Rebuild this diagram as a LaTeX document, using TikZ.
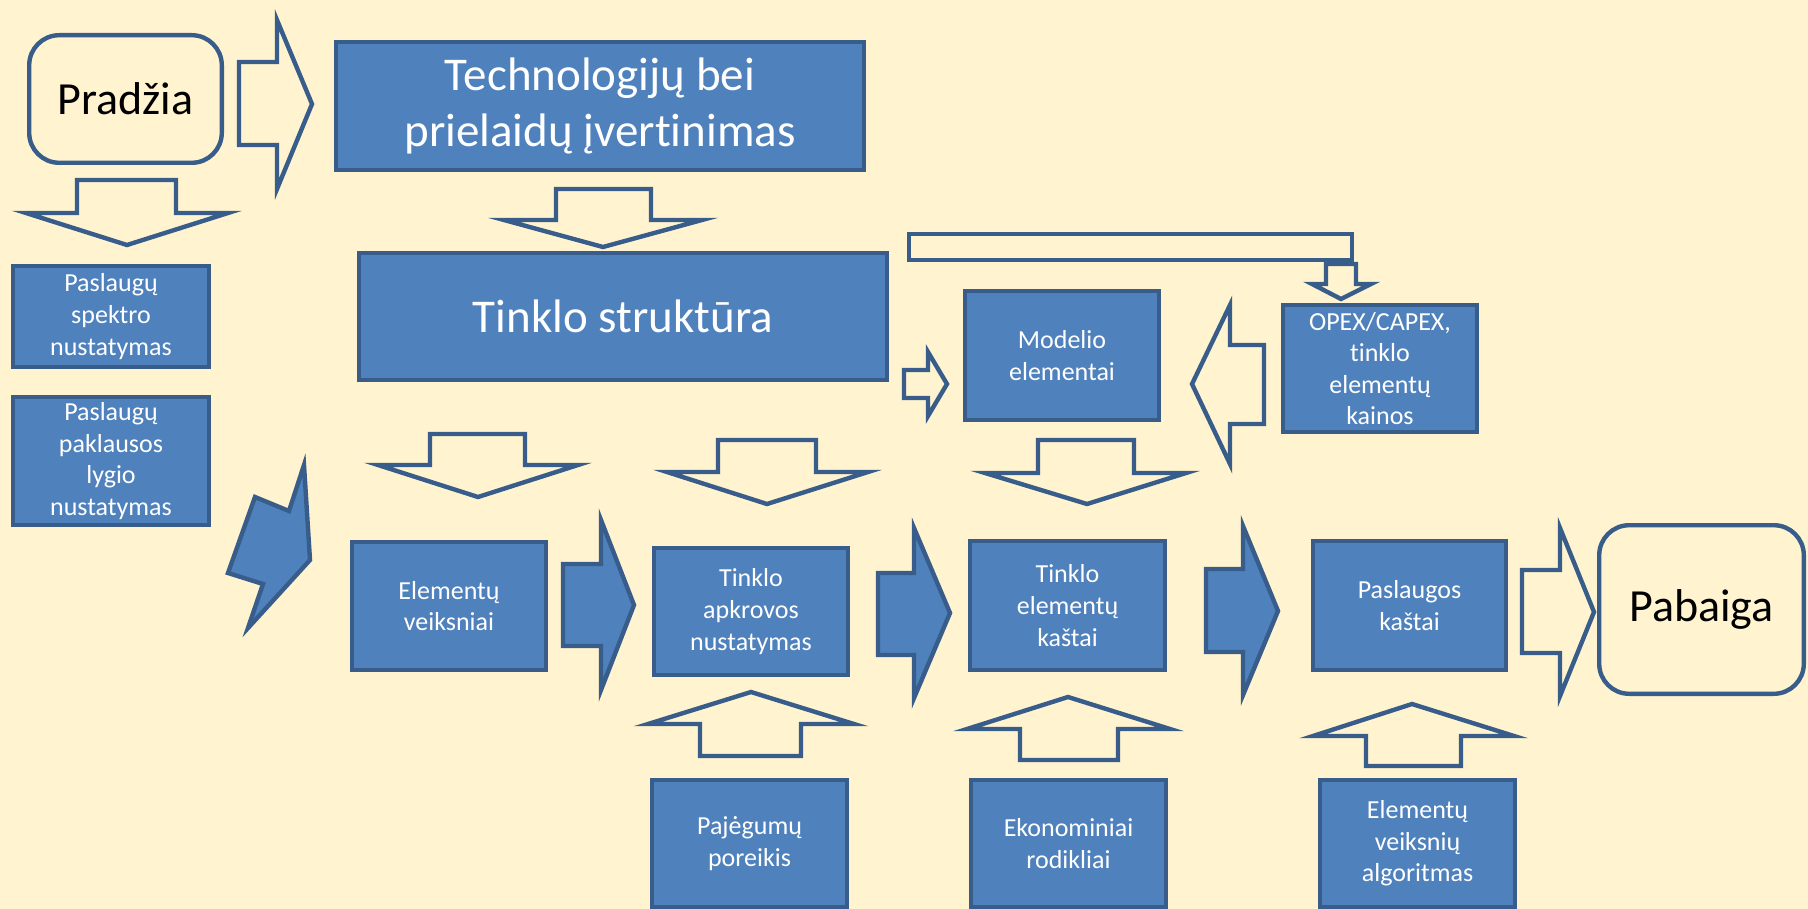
\documentclass[tikz,border=0pt]{standalone}
\usepackage{fontspec}
\setmainfont{Carlito}[Ligatures=NoCommon]
\usepackage{tikz}
\usetikzlibrary{positioning}

\definecolor{bg}{HTML}{FFF3D0}
\definecolor{boxblue}{HTML}{4F81BD}
\definecolor{boxline}{HTML}{385D8A}

\tikzset{
  box/.style={draw=boxline, fill=boxblue, line width=2.2pt, text=white, align=center,
    inner sep=0pt, font=\fontsize{13}{15.8}\selectfont},
  bigbox/.style={box, font=\fontsize{23.5}{28}\selectfont},
  endbox/.style={draw=boxline, fill=bg, line width=2.2pt, rounded corners=15pt,
    inner sep=0pt, font=\fontsize{23}{28}\selectfont},
  hollow/.style={draw=boxline, fill=bg, line width=2.2pt},
  solid/.style={draw=boxline, fill=boxblue, line width=2.2pt}
}

\begin{document}
\begin{tikzpicture}[x=0.5pt, y=-0.5pt]
  \fill[bg] (0,0) rectangle (1808,909);
  \useasboundingbox (0,0) rectangle (1808,909);

  % hollow arrows
  \draw[hollow] (239,62) -- (277,62) -- (277,20) -- (312,104) -- (277,189) -- (277,145) -- (239,145) -- cycle; % start -> tech
  \draw[hollow] (77,180) -- (176,180) -- (176,213) -- (228,213) -- (127,245) -- (26,213) -- (77,213) -- cycle; % start down
  \draw[hollow] (556,189) -- (651,189) -- (651,220) -- (702,220) -- (603,247) -- (504,220) -- (556,220) -- cycle; % tech down
  \draw[hollow] (909,234) rectangle (1352,260); % bar
  \draw[hollow] (1326,264) -- (1356,264) -- (1356,284) -- (1371,284) -- (1341,299) -- (1312,284) -- (1326,284) -- cycle; % bar down
  \draw[hollow] (904,370) -- (928,370) -- (928,352) -- (947,384) -- (928,416) -- (928,398) -- (904,398) -- cycle; % struct -> model
  \draw[hollow] (1192,384) -- (1230,305) -- (1230,345) -- (1264,345) -- (1264,424) -- (1230,424) -- (1230,464) -- cycle; % opex -> model
  \draw[hollow] (430,434) -- (525,434) -- (525,465) -- (578,465) -- (478,497) -- (378,465) -- (430,465) -- cycle;
  \draw[hollow] (718,440) -- (816,440) -- (816,472) -- (868,472) -- (767,504) -- (667,472) -- (718,472) -- cycle;
  \draw[hollow] (1038,440) -- (1134,440) -- (1134,473) -- (1186,473) -- (1087,504) -- (985,473) -- (1038,473) -- cycle;
  \draw[hollow] (1522,570) -- (1560,570) -- (1560,528) -- (1594,612) -- (1560,696) -- (1560,653) -- (1522,653) -- cycle; % -> end
  \draw[hollow] (751,692) -- (854,724) -- (801,724) -- (801,756) -- (700,756) -- (700,724) -- (648,724) -- cycle; % up
  \draw[hollow] (1068,697) -- (1170,729) -- (1118,729) -- (1118,760) -- (1020,760) -- (1020,729) -- (967,729) -- cycle;
  \draw[hollow] (1412,704) -- (1514,736) -- (1461,736) -- (1461,766) -- (1366,766) -- (1366,736) -- (1313,736) -- cycle;

  % solid arrows
  \draw[solid] (304,465) -- (310,560) -- (248,628) -- (263,584) -- (228,573) -- (255,497) -- (289,511) -- cycle; % zigzag
  \draw[solid] (563,564) -- (601,564) -- (601,520) -- (634,605) -- (601,690) -- (601,646) -- (563,646) -- cycle;
  \draw[solid] (878,573) -- (914,573) -- (914,528) -- (950,613) -- (914,698) -- (914,655) -- (878,655) -- cycle;
  \draw[solid] (1206,569) -- (1243,569) -- (1243,526) -- (1278,611) -- (1243,695) -- (1243,652) -- (1206,652) -- cycle;

  % boxes
  \node[endbox, minimum width=96.3pt, minimum height=63.8pt] (pradzia) at (125.5,99) {Pradžia};
  \node[bigbox, minimum width=263.8pt, minimum height=63.8pt] (tech) at (600,106) {Technologijų bei\\prielaidų įvertinimas};
  \node[box, minimum width=97.8pt, minimum height=50.3pt] (spektras) at (111,316.5) {Paslaugų\\spektro\\nustatymas};
  \node[box, minimum width=97.8pt, minimum height=63.8pt] (paklausa) at (111,461) {Paslaugų\\paklausos\\lygio\\nustatymas};
  \node[bigbox, minimum width=263.8pt, minimum height=63.3pt] (struktura) at (623,316.5) {Tinklo struktūra};
  \node[box, minimum width=96.8pt, minimum height=64.3pt] (modelis) at (1062,355.5) {Modelio\\elementai};
  \node[box, minimum width=96.8pt, minimum height=63.3pt] (opex) at (1380,368.5) {OPEX/CAPEX,\\tinklo\\elementų\\kainos};
  \node[box, minimum width=96.8pt, minimum height=63.8pt] (veiksniai) at (449,606) {Elementų\\veiksniai};
  \node[box, minimum width=96.8pt, minimum height=63.3pt] (apkrova) at (751,611.5) {Tinklo\\apkrovos\\nustatymas};
  \node[box, minimum width=97.3pt, minimum height=64.3pt] (kastai) at (1067.5,605.5) {Tinklo\\elementų\\kaštai};
  \node[box, minimum width=96.3pt, minimum height=64.3pt] (paslauga) at (1409.5,605.5) {Paslaugos\\kaštai};
  \node[endbox, minimum width=102.3pt, minimum height=84.3pt] (pabaiga) at (1701.5,609.5) {Pabaiga};
  \node[box, minimum width=97.3pt, minimum height=63.3pt] (pajegumai) at (749.5,843.5) {Pajėgumų\\poreikis};
  \node[box, minimum width=97.3pt, minimum height=63.3pt] (rodikliai) at (1068.5,843.5) {Ekonominiai\\rodikliai};
  \node[box, minimum width=97.3pt, minimum height=63.3pt] (algoritmas) at (1417.5,843.5) {Elementų\\veiksnių\\algoritmas};
\end{tikzpicture}
\end{document}
